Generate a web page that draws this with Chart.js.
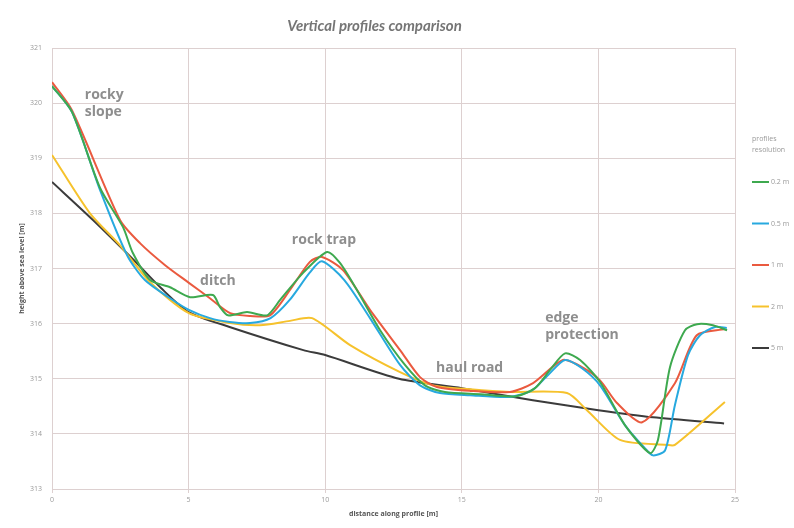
<!DOCTYPE html>
<html>
<head>
<meta charset="utf-8">
<script src="https://cdn.jsdelivr.net/npm/chart.js@4/dist/chart.umd.min.js"></script>
<style>
  html, body { margin: 0; padding: 0; background: #ffffff; }
  #wrap { width: 794px; height: 528px; position: relative; }
</style>
</head>
<body>
<div id="wrap"><canvas id="chart" width="794" height="528"></canvas></div>
<script>
// axis ticks
const xTicks = [0, 5, 10, 15, 20, 25];
const yTicks = [313, 314, 315, 316, 317, 318, 319, 320, 321];

// profile at 0.2 m resolution (green)
const greenX = [0, 0.73, 1.76, 2.6, 2.96, 3.59, 4.32, 5.05, 5.89, 6.15, 6.44, 7.14, 7.87, 8.35, 9.19, 10.07, 10.54, 11.16, 12.01, 12.92, 13.65, 14.38, 15.67, 16.95, 17.68, 18.23, 18.78, 19.33, 20.06, 20.97, 21.89, 22.18, 22.62, 23.17, 23.61, 24.19, 24.71];
const greenY = [320.31, 319.84, 318.46, 317.75, 317.28, 316.79, 316.66, 316.48, 316.52, 316.30, 316.15, 316.21, 316.15, 316.43, 316.92, 317.30, 317.10, 316.61, 315.88, 315.25, 314.88, 314.76, 314.72, 314.68, 314.83, 315.16, 315.46, 315.34, 314.94, 314.16, 313.65, 313.89, 315.21, 315.88, 315.99, 315.97, 315.88];

// 0.5 m (blue)
const blueX = [0, 0.73, 1.76, 2.75, 3.4, 4.32, 5.01, 5.78, 6.5, 7.25, 8.0, 8.7, 9.44, 9.88, 10.7, 11.64, 12.74, 13.47, 14.2, 15.3, 16.76, 17.57, 18.16, 18.78, 19.4, 20.06, 20.97, 21.7, 22.0, 22.44, 22.8, 23.28, 23.72, 24.27, 24.7];
const blueY = [320.31, 319.84, 318.42, 317.24, 316.79, 316.46, 316.25, 316.10, 316.03, 316.01, 316.10, 316.43, 316.93, 317.13, 316.79, 316.10, 315.25, 314.88, 314.74, 314.70, 314.67, 314.79, 315.07, 315.34, 315.19, 314.88, 314.16, 313.74, 313.61, 313.70, 314.52, 315.43, 315.79, 315.94, 315.92];

// 1 m (red)
const redX = [0, 0.73, 2.49, 3.22, 4.14, 5.01, 5.78, 6.52, 7.25, 7.98, 8.71, 9.44, 9.88, 10.65, 11.64, 12.74, 13.47, 14.09, 15.3, 16.76, 17.61, 18.7, 19.4, 20.06, 20.68, 21.6, 22.8, 23.6, 24.63];
const redY = [320.38, 319.87, 317.88, 317.46, 317.06, 316.74, 316.46, 316.19, 316.14, 316.15, 316.61, 317.12, 317.21, 316.97, 316.25, 315.52, 315.03, 314.85, 314.78, 314.76, 314.92, 315.34, 315.21, 314.97, 314.56, 314.21, 314.92, 315.79, 315.90];

// 2 m (yellow)
const yellowX = [0, 1.39, 2.49, 3.59, 5.01, 6.52, 7.61, 8.71, 9.52, 10.91, 12.74, 13.95, 15.3, 16.76, 18.85, 19.58, 20.79, 22.51, 22.8, 24.63];
const yellowY = [319.06, 318.0, 317.42, 316.75, 316.19, 316.01, 315.97, 316.05, 316.10, 315.61, 315.12, 314.88, 314.81, 314.76, 314.74, 314.43, 313.89, 313.80, 313.80, 314.58];

// 5 m (black)
const blackX = [0, 1.5, 3.0, 4.0, 5.0, 6.5, 9.2, 10.0, 12.7, 15.0, 17.6, 20.0, 22.0, 24.6];
const blackY = [318.57, 317.88, 317.15, 316.64, 316.21, 315.94, 315.52, 315.43, 315.0, 314.83, 314.61, 314.43, 314.30, 314.19];

const seriesLabels = ["0.2 m", "0.5 m", "1 m", "2 m", "5 m"];
const seriesColors = ["#3ea94f", "#27a9df", "#ea5a3f", "#f6c22c", "#3b3b3b"];

// text labels placed on the profile
const noteText = [["rocky", "slope"], ["ditch"], ["rock trap"], ["haul road"], ["edge", "protection"]];
const noteX = [1.2, 5.42, 8.78, 14.06, 18.05];
const noteY = [320.15, 316.77, 317.52, 315.19, 316.1];

function points(xs, ys) {
    return xs.map((x, i) => ({ x: x, y: ys[i] }));
}

const allX = [greenX, blueX, redX, yellowX, blackX];
const allY = [greenY, blueY, redY, yellowY, blackY];

const datasets = seriesLabels.map((label, i) => ({
    label: label,
    data: points(allX[i], allY[i]),
    borderColor: seriesColors[i],
    backgroundColor: seriesColors[i],
    borderWidth: 2,
    pointRadius: 0,
    tension: 0.25,
    fill: false
}));

// draws the notes and the side legend
const extras = {
    id: "extras",
    afterDatasetsDraw(chart) {
        const ctx = chart.ctx;
        const xs = chart.scales.x;
        const ys = chart.scales.y;
        ctx.save();
        ctx.fillStyle = "#8e8e8e";
        ctx.font = "bold 14px 'Open Sans'";
        ctx.textBaseline = "middle";
        ctx.textAlign = "left";
        noteText.forEach((lines, i) => {
            const px = xs.getPixelForValue(noteX[i]);
            const py = ys.getPixelForValue(noteY[i]);
            lines.forEach((t, j) => ctx.fillText(t, px, py + j * 17));
        });

        // legend
        const left = chart.chartArea.right + 17;
        ctx.font = "7px 'Open Sans'";
        ctx.fillStyle = "#999999";
        ctx.fillText("profiles", left, 139);
        ctx.fillText("resolution", left, 150);
        chart.data.datasets.forEach((ds, i) => {
            const y = 182 + i * 41.5;
            ctx.strokeStyle = ds.borderColor;
            ctx.lineWidth = 2;
            ctx.beginPath();
            ctx.moveTo(left, y);
            ctx.lineTo(left + 17, y);
            ctx.stroke();
            ctx.fillStyle = "#999999";
            ctx.fillText(ds.label, left + 19, y);
        });
        ctx.restore();
    }
};

const gridColor = "#ddd0d0";

new Chart(document.getElementById("chart"), {
    type: "line",
    data: { datasets: datasets },
    options: {
        responsive: false,
        animation: false,
        layout: { padding: { left: 14, right: 59, top: 0, bottom: 6 } },
        plugins: {
            legend: { display: false },
            tooltip: { enabled: false },
            title: {
                display: true,
                text: "Vertical profiles comparison",
                color: "#757575",
                font: { family: "Lato", size: 15, weight: "bold", style: "italic" },
                padding: { top: 17, bottom: 13 }
            }
        },
        scales: {
            x: {
                type: "linear",
                min: xTicks[0],
                max: xTicks[xTicks.length - 1],
                afterBuildTicks: s => { s.ticks = xTicks.map(v => ({ value: v })); },
                afterFit: s => { s.height = 33; },
                grid: { color: gridColor, tickLength: 4, tickColor: gridColor },
                border: { color: gridColor },
                ticks: { color: "#9a9a9a", font: { family: "Open Sans", size: 7 }, padding: 3 },
                title: {
                    display: true,
                    text: "distance along profile [m]",
                    color: "#555555",
                    font: { family: "Open Sans", size: 7, weight: "bold" },
                    padding: { top: 4 }
                }
            },
            y: {
                min: yTicks[0],
                max: yTicks[yTicks.length - 1],
                afterBuildTicks: s => { s.ticks = yTicks.map(v => ({ value: v })); },
                afterFit: s => { s.width = 38; },
                grid: { color: gridColor, drawTicks: false },
                border: { color: gridColor },
                ticks: { color: "#9a9a9a", font: { family: "Open Sans", size: 7 }, padding: 10 },
                title: {
                    display: true,
                    text: "height above sea level [m]",
                    color: "#555555",
                    font: { family: "Open Sans", size: 7, weight: "bold" },
                    padding: { bottom: 2 }
                }
            }
        }
    },
    plugins: [extras]
});
</script>
</body>
</html>
